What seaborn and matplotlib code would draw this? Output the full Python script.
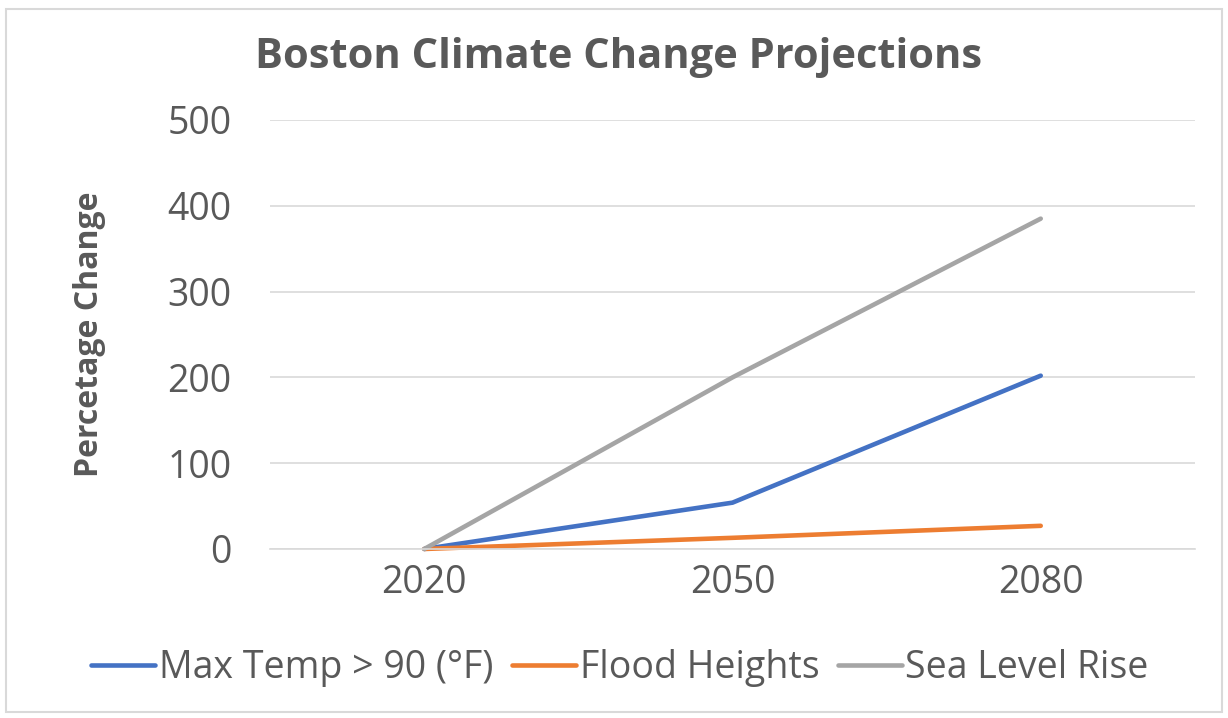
import matplotlib
matplotlib.use("Agg")
import matplotlib.pyplot as plt
import seaborn as sns
import pandas as pd
from matplotlib.patches import Rectangle

# values
years = ["2020", "2050", "2080"]
max_temp = [0, 54, 202]
flood_heights = [0, 13, 27]
sea_level = [0, 200, 385]
series_names = ["Max Temp > 90 (°F)", "Flood Heights", "Sea Level Rise"]
colors = ["#4472C4", "#ED7D31", "#A5A5A5"]

df = pd.DataFrame({
    "Year": years * 3,
    "Value": max_temp + flood_heights + sea_level,
    "Series": [s for s in series_names for _ in years],
})
df["pos"] = df["Year"].map({y: i for i, y in enumerate(years)})

sns.set_theme(style="white")
plt.rcParams["font.family"] = ["Open Sans", "DejaVu Sans"]
text_col = "#595959"

fig = plt.figure(figsize=(12.28, 7.18), dpi=100)
ax = fig.add_axes([0.22, 0.2354, 0.753, 0.5975])

sns.lineplot(data=df, x="pos", y="Value", hue="Series", hue_order=series_names,
             palette=colors, linewidth=3.3, ax=ax, legend=False, clip_on=False)

ax.set_xlim(-0.5, 2.5)
ax.set_ylim(0, 500)
ax.set_xticks(range(len(years)))
ax.set_xticklabels(years)
ax.set_yticks([0, 100, 200, 300, 400, 500])
ax.tick_params(axis="both", length=0, labelsize=27, colors=text_col)
ax.tick_params(axis="x", pad=11)
ax.tick_params(axis="y", pad=28)
ax.grid(axis="y", color="#D9D9D9", linewidth=1.2)
ax.set_axisbelow(True)
for side in ["left", "right", "top"]:
    ax.spines[side].set_visible(False)
ax.spines["bottom"].set_color("#D9D9D9")
ax.spines["bottom"].set_linewidth(1.2)

ax.set_xlabel("")
ax.set_ylabel("Percetage Change", fontsize=23, fontweight="bold", color=text_col)
ax.yaxis.set_label_coords(-0.178, 0.5)

fig.text(0.504, 0.92, "Boston Climate Change Projections", ha="center", va="center",
         fontsize=30, fontweight="bold", color=text_col)

# legend
handles = [plt.Line2D([], [], color=c, linewidth=3.3) for c in colors]
fig.legend(handles, series_names, loc="center", bbox_to_anchor=(0.505, 0.07), ncol=3,
           frameon=False, fontsize=27, handlelength=1.7, handletextpad=0.1,
           columnspacing=0.5, labelcolor=text_col)

# chart border
fig.patches.append(Rectangle((0.005, 0.008), 0.99, 0.98, transform=fig.transFigure,
                             fill=False, edgecolor="#D9D9D9", linewidth=1.5))

fig.savefig("out.png", dpi=100)
